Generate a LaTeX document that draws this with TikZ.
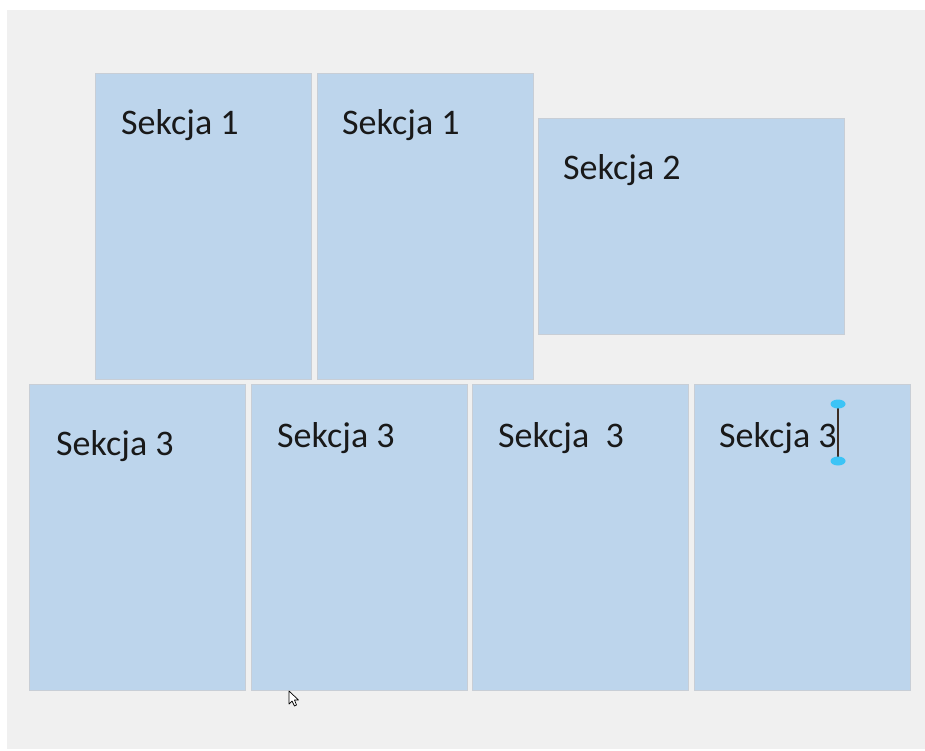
\documentclass[tikz,border=0pt]{standalone}
\usepackage{fontspec}
\setmainfont{Carlito}
\usepackage{tikz}

\definecolor{tlo}{RGB}{240,240,240}
\definecolor{sekcjafill}{RGB}{189,213,236}
\definecolor{sekcjaline}{RGB}{200,206,214}
\definecolor{uchwyt}{RGB}{60,196,246}
\definecolor{kursor}{RGB}{60,45,35}

\tikzset{
    sekcja/.style={draw=sekcjaline, line width=1pt, fill=sekcjafill,
        anchor=north west, inner sep=0pt, minimum width=216pt},
    etykieta/.style={anchor=base west, inner sep=0pt, text=black!90,
        font=\fontsize{36}{40}\selectfont},
    uchwyt/.style={fill=uchwyt}
}

\begin{document}
\begin{tikzpicture}[x=1pt,y=-1pt]

    \useasboundingbox (0,0) rectangle (925,750);
    \fill[tlo] (7,10) rectangle (925,749);

    % upper row
    \node[sekcja, minimum height=306pt] (s1a) at (95,73) {};
    \node[sekcja, minimum height=306pt] (s1b) at (317,73) {};
    \node[sekcja, minimum width=306pt, minimum height=216pt] (s2) at (538,118) {};

    \node[etykieta] (t1a) at (121,134) {Sekcja 1};
    \node[etykieta] (t1b) at (342,134) {Sekcja 1};
    \node[etykieta] (t2) at (563,179) {Sekcja 2};

    % lower row
    \foreach \i/\x in {1/29,2/251,3/472,4/694}
    {
        \node[sekcja, minimum height=306pt] (s3-\i) at (\x,384) {};
    }

    \node[etykieta] (t3-1) at (56,455) {Sekcja 3};
    \node[etykieta] (t3-2) at (277,447) {Sekcja 3};
    \node[etykieta] (t3-3) at (498,447) {Sekcja~~3};
    \node[etykieta] (t3-4) at (719,447) {Sekcja 3};

    % text cursor
    \coordinate (kg) at (838,404);
    \coordinate (kd) at (838,461);
    \draw[kursor, line width=1.2pt] (kg) -- (kd);
    \fill[uchwyt] (kg) ellipse (7.5 and 4.5);
    \fill[uchwyt] (kd) ellipse (7.5 and 4.5);

    % mouse pointer
    \draw[fill=white, line width=0.7pt, line join=round]
    (289,691) -- (289,704) -- (292,701) -- (294.5,706) -- (296.5,705)
    -- (294.5,700) -- (298.5,700) -- cycle;

\end{tikzpicture}
\end{document}
